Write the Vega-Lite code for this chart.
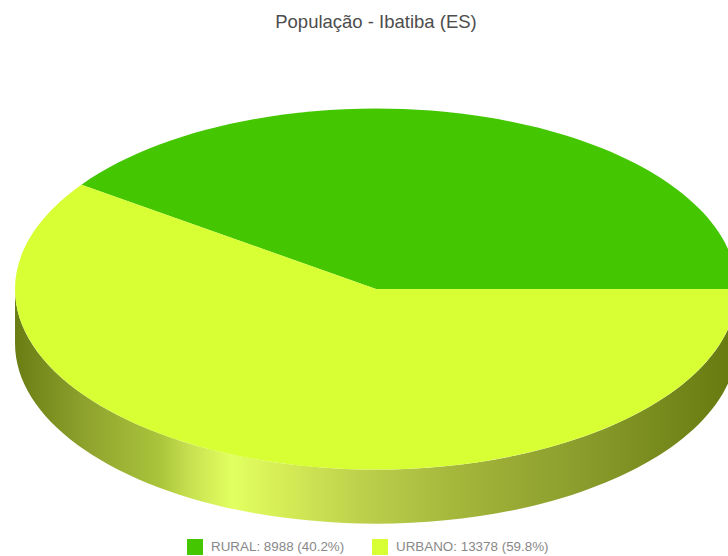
{
  "$schema": "https://vega.github.io/schema/vega-lite/v6.json",
  "width": 728,
  "height": 516,
  "autosize": "none",
  "padding": {"top": 40, "left": 0, "right": 0, "bottom": 0},
  "background": "white",
  "view": {"stroke": null},
  "title": {
    "text": "População - Ibatiba (ES)",
    "font": "Liberation Sans",
    "fontSize": 18.5,
    "fontWeight": "normal",
    "color": "#4d4d4d",
    "anchor": "middle",
    "dx": 12,
    "dy": -5
  },
  "data": {
    "values": [
      {"slice": "RURAL", "value": 8988},
      {"slice": "URBANO", "value": 13378}
    ]
  },
  "transform": [
    {"joinaggregate": [{"op": "sum", "field": "value", "as": "total"}]},
    {"window": [{"op": "sum", "field": "value", "as": "cum"}], "sort": [{"field": "slice", "order": "ascending"}]},
    {"calculate": "datum.value / datum.total", "as": "share"},
    {"calculate": "datum.slice + ': ' + datum.value + ' (' + format(datum.share * 100, '.1f') + '%)'", "as": "label"},
    {"calculate": "2 * PI * (datum.cum - datum.value) / datum.total", "as": "a0"},
    {"calculate": "2 * PI * datum.cum / datum.total", "as": "a1"},
    {"calculate": "'M0,0L' + round(cos(datum.a0) * 1e5) / 1e5 + ',' + round(-0.5 * sin(datum.a0) * 1e5) / 1e5 + 'A1,0.5 0 ' + (datum.share > 0.5 ? 1 : 0) + ' 0 ' + round(cos(datum.a1) * 1e5) / 1e5 + ',' + round(-0.5 * sin(datum.a1) * 1e5) / 1e5 + 'Z'", "as": "wedge"}
  ],
  "encoding": {
    "x": {"datum": 0, "type": "quantitative", "axis": null, "scale": {"domain": [-1.0416, 0.9751], "nice": false, "zero": false}},
    "y": {"datum": 0, "type": "quantitative", "axis": null, "scale": {"domain": [-0.7396, 0.6898], "nice": false, "zero": false}}
  },
  "layer": [
    {
      "description": "Rim of the disc, shaded from left to right",
      "transform": [{"filter": "datum.slice === 'URBANO'"}],
      "mark": {
        "type": "point",
        "filled": true,
        "opacity": 1,
        "size": 521284,
        "shape": "M-1,0L-1,0.15A1,0.5 0 0 0 1,0.15L1,0A1,0.5 0 0 1 -1,0Z",
        "fill": {
          "gradient": "linear",
          "x1": 0, "y1": 0, "x2": 1, "y2": 0,
          "stops": [
            {"offset": 0, "color": "#6a7d14"},
            {"offset": 0.1, "color": "#8fa32e"},
            {"offset": 0.2, "color": "#aac43b"},
            {"offset": 0.24, "color": "#c6df4f"},
            {"offset": 0.3, "color": "#e2ff60"},
            {"offset": 0.38, "color": "#d4ea55"},
            {"offset": 0.48, "color": "#bdd04c"},
            {"offset": 0.62, "color": "#a3b53a"},
            {"offset": 0.78, "color": "#8b9d2c"},
            {"offset": 1, "color": "#66790f"}
          ]
        }
      }
    },
    {
      "description": "Top face of the disc, one wedge per row",
      "mark": {"type": "point", "filled": true, "opacity": 1, "size": 521284, "strokeWidth": 0},
      "encoding": {
        "shape": {"field": "wedge", "type": "nominal", "scale": null},
        "color": {
          "field": "label",
          "type": "nominal",
          "scale": {"range": ["#44c700", "#d7ff33"]},
          "legend": {
            "title": null,
            "orient": "none",
            "legendX": 187,
            "legendY": 499,
            "direction": "horizontal",
            "columns": 2,
            "columnPadding": 27,
            "symbolType": "square",
            "symbolSize": 256,
            "symbolStrokeWidth": 0,
            "symbolOpacity": 1,
            "labelFont": "Liberation Sans",
            "labelFontSize": 13.4,
            "labelColor": "#888888",
            "labelOffset": 8,
            "labelLimit": 0
          }
        }
      }
    }
  ]
}
